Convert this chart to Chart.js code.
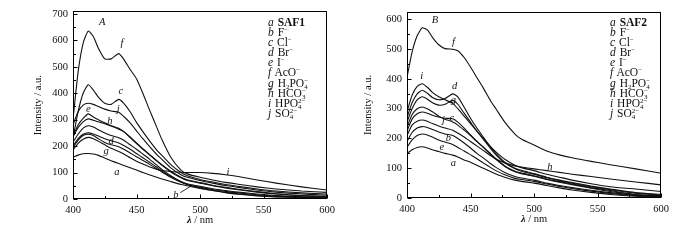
<!DOCTYPE html>
<html><head><meta charset="utf-8">
<script src="https://cdn.jsdelivr.net/npm/chart.js@4/dist/chart.umd.min.js"></script>
<style>
body{margin:0;background:#fff;width:700px;height:240px;overflow:hidden;position:relative;font-family:"Liberation Serif","Times New Roman",serif;color:#111;}
canvas{position:absolute;top:0;}
.legend{position:absolute;font-size:11.5px;line-height:10px;}
.legend div{height:10.1px;white-space:nowrap;}
.legend i{margin-right:1px;}
.legend sup{font-size:7px;vertical-align:4px;line-height:0;}
.legend sub{font-size:7px;vertical-align:-2px;line-height:0;}
.st{display:inline-block;font-size:7px;line-height:6px;vertical-align:-2px;text-align:left;}
.st span{display:block;}
</style></head>
<body>
<canvas id="c1" width="350" height="240" style="left:0"></canvas>
<canvas id="c2" width="350" height="240" style="left:350px"></canvas>
<div class="legend" id="lg1" style="left:268px;top:17px"></div>
<div class="legend" id="lg2" style="left:610px;top:17px"></div>
<script>
// ---- data ----
const wavelengths = [400,404,408,412,416,420,425,430,436,440,445,450,455,460,466,470,477,485,490,500,510,520,530,545,560,580,600];
const xTicks = [400,450,500,550,600];
const yTicks1 = [0,100,200,300,400,500,600,700];
const yTicks2 = [0,100,200,300,400,500,600];
const seriesKeys = ['a','b','c','d','e','f','g','h','i','j'];

// SAF1 panel
const saf1_a = [158,166,171,172,170,165,155,145,134,127,118,110,100,92,82,76,66,55,50,40,32,24,18,12,8,5,3];
const saf1_b = [215,245,268,277,272,262,250,240,232,222,205,188,170,152,128,112,88,65,55,42,32,25,19,13,9,6,4];
const saf1_c = [230,330,400,432,412,385,362,358,377,362,330,290,255,222,185,165,130,100,88,74,64,55,48,38,30,23,19];
const saf1_d = [200,228,245,250,246,238,228,220,212,202,188,172,156,140,120,106,85,66,58,48,39,32,26,19,13,8,6];
const saf1_e = [240,280,305,322,310,300,288,277,268,255,235,212,190,170,145,130,105,82,73,62,52,44,37,28,20,13,9];
const saf1_f = [300,480,590,635,615,570,530,530,550,528,490,455,400,340,271,225,158,109,95,82,72,63,56,46,38,30,25];
const saf1_g = [195,222,240,245,240,228,214,205,198,188,174,160,146,132,114,102,82,63,55,45,36,29,23,16,11,7,5];
const saf1_h = [235,270,292,303,298,292,285,276,264,255,232,210,188,168,143,127,102,80,70,60,50,42,35,26,19,12,8];
const saf1_i = [185,210,226,233,228,218,205,192,180,170,156,143,132,122,112,108,104,101,100,100,97,92,85,72,60,46,34];
const saf1_j = [280,330,355,362,358,350,340,333,328,312,288,258,228,200,168,150,118,92,82,70,60,51,44,34,26,19,14];

// SAF2 panel
const saf2_a = [150,162,170,172,168,162,156,150,144,138,128,120,110,100,88,81,70,60,56,50,42,34,27,19,12,6,3];
const saf2_b = [190,220,235,240,237,230,222,215,210,200,185,168,150,135,115,103,86,72,67,60,50,42,35,26,18,9,5];
const saf2_c = [225,265,283,289,285,278,272,268,266,255,235,212,190,170,145,130,106,88,82,73,62,53,45,33,22,12,8];
const saf2_d = [270,320,350,362,352,338,330,334,350,340,305,268,235,205,170,150,120,100,93,82,70,60,52,40,30,18,12];
const saf2_e = [170,195,210,215,212,205,195,188,180,170,158,145,132,118,102,92,78,66,62,56,47,39,32,23,15,8,4];
const saf2_f = [405,490,545,572,565,540,515,502,500,495,472,440,405,370,325,300,255,215,198,178,158,145,135,123,112,98,83];
const saf2_g = [255,300,330,340,332,320,312,315,328,315,285,255,225,198,165,145,118,98,90,80,68,58,50,38,28,16,10];
const saf2_h = [210,245,258,262,258,250,242,235,228,218,205,190,175,160,142,131,118,108,104,98,92,86,80,72,64,54,44];
const saf2_i = [290,345,375,384,372,355,340,330,318,300,275,250,225,200,172,155,130,110,102,92,80,70,60,48,38,30,22];
const saf2_j = [240,280,300,306,300,290,275,265,255,245,228,210,190,172,148,132,108,90,84,75,64,55,47,35,25,12,6];

const series1 = [saf1_a,saf1_b,saf1_c,saf1_d,saf1_e,saf1_f,saf1_g,saf1_h,saf1_i,saf1_j];
const series2 = [saf2_a,saf2_b,saf2_c,saf2_d,saf2_e,saf2_f,saf2_g,saf2_h,saf2_i,saf2_j];

// curve labels [text, wavelength, intensity]
const curveLabels1 = [['A',423,670],['f',438.5,589],['c',437.7,408],['e',412,340],['j',435.5,338],['h',429,295],['d',430,218],['g',426,179],['a',434.5,102],['b',481,15],['i',522,102]];
const curveLabels2 = [['B',422,599],['f',436.6,524],['i',411.6,409],['d',437.5,377],['g',436.6,328],['j',428.7,261],['c',435.3,267],['b',432.6,200],['e',427.4,170],['a',436.6,116],['h',512.5,105]];
const leader1 = [[484.5,24],[494,52]];

const stack = (sup, sub) => '<span class="st"><span>'+sup+'</span><span>'+sub+'</span></span>';
const ionNames1 = ['<b>SAF1</b>','F<sup>−</sup>','Cl<sup>−</sup>','Br<sup>−</sup>','I<sup>−</sup>','AcO<sup>−</sup>',
  'H<sub>2</sub>PO'+stack('−','4'),'HCO'+stack('−','3'),'HPO'+stack('2−','4'),'SO'+stack('2−','4')];
const ionNames2 = ionNames1.slice(); ionNames2[0] = '<b>SAF2</b>';

function buildLegend(el, names){
  el.innerHTML = seriesKeys.map((k,i)=>'<div><i>'+k+'</i> '+names[i]+'</div>').join('');
}
buildLegend(document.getElementById('lg1'), ionNames1);
buildLegend(document.getElementById('lg2'), ionNames2);

const serif = '"Liberation Serif","Times New Roman",serif';

const decorPlugin = {
  id:'decor',
  afterDraw(chart){
    const o = chart.options.plugins.decor;
    const {ctx, chartArea:a, scales:{x,y}} = chart;
    ctx.save();
    ctx.strokeStyle='#000'; ctx.lineWidth=1;
    const L=Math.round(a.left)+0.5, R=Math.round(a.right)-0.5, T=Math.round(a.top)+0.5, B=Math.round(a.bottom)-0.5;
    ctx.strokeRect(L,T,R-L,B-T);
    ctx.beginPath();
    for(let v=400; v<=600; v+=25){
      const px=Math.round(x.getPixelForValue(v))+0.5;
      const len = (v%50===0)?4:2.5;
      ctx.moveTo(px,B); ctx.lineTo(px,B-len);
    }
    for(let v=0; v<=o.ymax; v+=50){
      const py=Math.round(y.getPixelForValue(v))+0.5;
      const len = (v%100===0)?4:2.5;
      ctx.moveTo(L,py); ctx.lineTo(L+len,py);
    }
    ctx.stroke();
    // axis titles
    ctx.fillStyle='#111';
    ctx.font='10.5px '+serif;
    ctx.textAlign='center'; ctx.textBaseline='middle';
    ctx.save();
    ctx.translate(a.left - o.ytitleOff, (a.top+a.bottom)/2);
    ctx.rotate(-Math.PI/2);
    ctx.fillText('Intensity / a.u.',0,0);
    ctx.restore();
    const cx=(a.left+a.right)/2, ty=a.bottom+21;
    ctx.font='italic bold 10.5px '+serif;
    const w1=ctx.measureText('λ').width;
    ctx.font='10.5px '+serif;
    const w2=ctx.measureText(' / nm').width;
    const sx=cx-(w1+w2)/2;
    ctx.textAlign='left';
    ctx.font='italic bold 10.5px '+serif; ctx.fillText('λ',sx,ty);
    ctx.font='10.5px '+serif; ctx.fillText(' / nm',sx+w1,ty);
    // curve labels
    ctx.textAlign='center';
    ctx.font='italic 10.5px '+serif;
    o.labels.forEach(([t,lx,ly])=>ctx.fillText(t,x.getPixelForValue(lx),y.getPixelForValue(ly)));
    if(o.leader){
      ctx.beginPath();
      ctx.moveTo(x.getPixelForValue(o.leader[0][0]),y.getPixelForValue(o.leader[0][1]));
      ctx.lineTo(x.getPixelForValue(o.leader[1][0]),y.getPixelForValue(o.leader[1][1]));
      ctx.lineWidth=0.8; ctx.stroke();
    }
    ctx.restore();
  }
};

function makeChart(id, series, yTicks, ymax, pad, yWidth, xHeight, labels, leader, ytitleOff){
  return new Chart(document.getElementById(id), {
    type:'line',
    data:{ datasets: series.map((s,i)=>({
      label: seriesKeys[i],
      data: wavelengths.map((w,j)=>({x:w,y:s[j]})),
      borderColor:'#111', borderWidth:1.1, pointRadius:0, tension:0.2, fill:false
    }))},
    options:{
      responsive:false, animation:false, devicePixelRatio:1,
      layout:{padding:pad},
      plugins:{legend:{display:false}, tooltip:{enabled:false},
        decor:{ymax, labels, leader, ytitleOff}},
      scales:{
        x:{type:'linear', min:400, max:600,
          grid:{display:false, drawTicks:false}, border:{display:false},
          afterBuildTicks:(s)=>{s.ticks = xTicks.map(v=>({value:v}));},
          afterFit:(s)=>{s.height = xHeight;},
          ticks:{color:'#111', font:{family:serif, size:10.5}, padding:5, maxRotation:0, autoSkip:false}},
        y:{type:'linear', min:0, max:ymax,
          grid:{display:false, drawTicks:false}, border:{display:false},
          afterBuildTicks:(s)=>{s.ticks = yTicks.map(v=>({value:v}));},
          afterFit:(s)=>{s.width = yWidth;},
          ticks:{color:'#111', font:{family:serif, size:10.5}, padding:5, autoSkip:false}}
      }
    },
    plugins:[decorPlugin]
  });
}

makeChart('c1', series1, yTicks1, 710, {left:0,right:23,top:9,bottom:0}, 73, 41, curveLabels1, leader1, 35);
makeChart('c2', series2, yTicks2, 625, {left:0,right:39,top:12,bottom:0}, 57, 42, curveLabels2, null, 39);
</script>
</body></html>
